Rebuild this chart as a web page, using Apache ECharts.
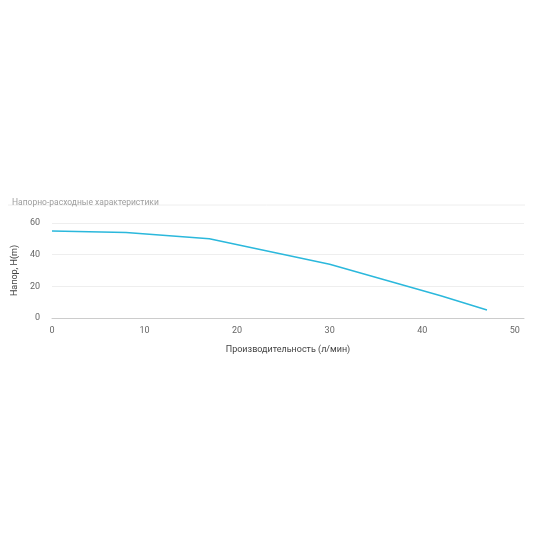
<!DOCTYPE html>
<html>
<head>
<meta charset="utf-8">
<script src="https://cdn.jsdelivr.net/npm/echarts@6/dist/echarts.min.js"></script>
<style>html,body{margin:0;background:#fff}#c{width:550px;height:550px}</style>
</head>
<body>
<div id="c"></div>
<script>
const flow = [0, 8, 17, 30, 42, 47];
const head = [55, 54, 50, 34, 14, 5];

const chart = echarts.init(document.getElementById("c"));
chart.setOption({
  animation: false,
  title: {
    text: "Напорно-расходные характеристики",
    left: 7,
    top: 193,
    textStyle: { fontSize: 8.5, fontWeight: "normal", color: "#9e9e9e", fontFamily: "Roboto" },
  },
  graphic: [
    { type: "line", shape: { x1: 8, y1: 205, x2: 525, y2: 205 }, style: { stroke: "#eeeeee", lineWidth: 1 } },
  ],
  grid: { left: 52, right: 26, top: 223, bottom: 232 },
  xAxis: {
    type: "value",
    min: 0,
    max: 51,
    interval: 10,
    name: "Производительность (л/мин)",
    nameLocation: "middle",
    nameGap: 27,
    nameTextStyle: { fontSize: 9, color: "#444", fontFamily: "Roboto" },
    axisLine: { show: true, lineStyle: { color: "#cccccc" } },
    axisTick: { show: false },
    splitLine: { show: false },
    axisLabel: { fontSize: 9, color: "#666", showMaxLabel: false, margin: 8, fontFamily: "Roboto" },
  },
  yAxis: {
    type: "value",
    min: 0,
    max: 60,
    interval: 20,
    name: "Напор, H(m)",
    nameLocation: "middle",
    nameGap: 32,
    nameTextStyle: { fontSize: 9, color: "#444", fontFamily: "Roboto" },
    axisLine: { show: false },
    axisTick: { show: false },
    splitLine: { lineStyle: { color: "#eeeeee" } },
    axisLabel: { fontSize: 9, color: "#666", margin: 12, fontFamily: "Roboto" },
  },
  series: [
    {
      type: "line",
      data: flow.map((x, i) => [x, head[i]]),
      symbol: "none",
      lineStyle: { color: "#2bb8dc", width: 1.5 },
    },
  ],
});
</script>
</body>
</html>
